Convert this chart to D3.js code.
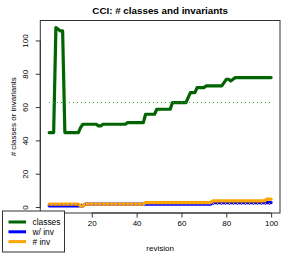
<html>
<body style="margin:0">
<style>
  text{font-family:"Liberation Sans",Arial,sans-serif;fill:#000;}
</style>
<svg width="294" height="254"></svg>
<script src="https://cdn.jsdelivr.net/npm/d3@7"></script>
<script>

// revisions 1..100
var revisions = d3.range(1, 101);

// # classes per revision
var classes = [
  45,45,45,108,107,106,106,45,45,45, 45,45,45,45,48,50,50,50,50,50,
  50,50,49,49,50,50,50,50,50,50, 50,50,50,50,50,51,51,51,51,51,
  51,51,51,56,56,56,56,56,59,59, 59,59,59,59,59,63,63,63,63,63,
  63,63,66,69,69,69,72,72,72,72, 73,73,73,73,73,73,73,73,75,77,
  77,76,77,78,78,78,78,78,78,78, 78,78,78,78,78,78,78,78,78,78
];

// classes with invariants
var withInv = [
  1,1,1,1,1,1,1,1,1,1, 1,1,1,1,1,1,2,2,2,2,
  2,2,2,2,2,2,2,2,2,2, 2,2,2,2,2,2,2,2,2,2,
  2,2,2,2,2,2,2,2,2,2, 2,2,2,2,2,2,2,2,2,2,
  2,2,2,2,2,2,2,2,2,2, 2,2,2,3,3,3,3,3,3,3,
  3,3,3,3,3,3,3,3,3,3, 3,3,3,3,3,3,3,3,3,3
];

// number of invariants
var numInv = [
  2,2,2,2,2,2,2,2,2,2, 2,2,2,2,1,1,2,2,2,2,
  2,2,2,2,2,2,2,2,2,2, 2,2,2,2,2,2,2,2,2,2,
  2,2,2,3,3,3,3,3,3,3, 3,3,3,3,3,3,3,3,3,3,
  3,3,3,3,3,3,3,3,3,3, 3,3,3,4,4,4,4,4,4,4,
  4,4,4,4,4,4,4,4,4,4, 4,4,4,4,4,4,4,5,5,5
];

var seriesNames = ["classes", "w/ inv", "# inv"];
var seriesColors = ["#006400", "#0000ff", "#ffa500"];
var meanColors = ["#3aa83a", "#5555ff", "#ffa500"];
var xTicks = [20, 40, 60, 80, 100];
var yTicks = [0, 20, 40, 60, 80, 100];

var svg = d3.select("svg"),
    pl = 40.3, pr = 280, pt = 20.5, pb = 213;

var series = [classes, withInv, numInv];

// R style 4% padding on both axes
var xr = d3.extent(revisions), xp = (xr[1] - xr[0]) * 0.04;
var yr = [d3.min(series, function(s){return d3.min(s);}), d3.max(series, function(s){return d3.max(s);})];
var yp = (yr[1] - yr[0]) * 0.04;

var x = d3.scaleLinear().domain([xr[0] - xp, xr[1] + xp]).range([pl, pr]);
var y = d3.scaleLinear().domain([yr[0] - yp, yr[1] + yp]).range([pb, pt]);

var line = d3.line()
  .x(function(d, i){return x(revisions[i]);})
  .y(function(d){return y(d);});

var g = svg.append("g");

g.selectAll("path.series")
  .data(series)
  .enter()
  .append("path")
  .attr("class", "series")
  .attr("d", line)
  .attr("fill", "none")
  .attr("stroke", function(d, i){return seriesColors[i];})
  .attr("stroke-width", 3.2)
  .attr("stroke-linejoin", "round")
  .attr("stroke-linecap", "round");

// mean lines, dotted (snapped to whole pixels so the dots stay sharp)
g.selectAll("line.mean")
  .data(series)
  .enter()
  .append("line")
  .attr("class", "mean")
  .attr("x1", Math.round(x(xr[0])))
  .attr("x2", Math.round(x(xr[1])))
  .attr("y1", function(d){return Math.round(y(d3.mean(d))) + 0.5;})
  .attr("y2", function(d){return Math.round(y(d3.mean(d))) + 0.5;})
  .attr("stroke", function(d, i){return meanColors[i];})
  .attr("stroke-width", 1)
  .attr("stroke-dasharray", "1,3")
  .attr("shape-rendering", "crispEdges");

// box
svg.append("rect")
  .attr("x", pl).attr("y", pt)
  .attr("width", pr - pl).attr("height", pb - pt)
  .attr("fill", "none").attr("stroke", "#333").attr("stroke-width", 1);

// axes
var xAxis = d3.axisBottom(x).tickValues(xTicks).tickSize(4.5).tickPadding(3).tickFormat(d3.format("d"));
var gx = svg.append("g").attr("transform", "translate(0," + pb + ")").call(xAxis);
gx.select(".domain").attr("d", "M" + x(xTicks[0]) + ",0H" + x(xTicks[xTicks.length - 1])).attr("stroke", "#333");
gx.selectAll("line").attr("stroke", "#333");
gx.selectAll("text").attr("font-size", 8).attr("font-family", "Liberation Sans,Arial,sans-serif").attr("fill", "#000");

var yAxis = d3.axisLeft(y).tickValues(yTicks).tickSize(4.5).tickFormat(d3.format("d"));
var gy = svg.append("g").attr("transform", "translate(" + pl + ",0)").call(yAxis);
gy.select(".domain").attr("d", "M0," + y(yTicks[0]) + "V" + y(yTicks[yTicks.length - 1])).attr("stroke", "#333");
gy.selectAll("line").attr("stroke", "#333");
gy.selectAll(".tick").attr("transform", null);
gy.selectAll(".tick line").attr("transform", function(d){return "translate(0," + y(d) + ")";});
gy.selectAll("text")
  .attr("font-size", 8).attr("font-family", "Liberation Sans,Arial,sans-serif").attr("fill", "#000")
  .attr("x", null).attr("y", null)
  .attr("text-anchor", "middle")
  .attr("transform", function(d){return "translate(-12," + y(d) + ") rotate(-90)";})
  .attr("dy", "0");

// title and labels
svg.append("text")
  .attr("x", (pl + pr) / 2).attr("y", 14)
  .attr("text-anchor", "middle").attr("font-size", 9.8).attr("font-weight", "bold")
  .text("CCI: # classes and invariants");

svg.append("text")
  .attr("x", (pl + pr) / 2).attr("y", 251)
  .attr("text-anchor", "middle").attr("font-size", 8)
  .text("revision");

svg.append("text")
  .attr("transform", "translate(16," + (pt + pb) / 2 + ") rotate(-90)")
  .attr("text-anchor", "middle").attr("font-size", 8)
  .text("# classes or invariants");

// legend
var lg = svg.append("g");
lg.append("rect")
  .attr("x", 2.5).attr("y", 211).attr("width", 62).attr("height", 41)
  .attr("fill", "#fff").attr("stroke", "#333");
var items = lg.selectAll("g.item")
  .data(seriesNames)
  .enter()
  .append("g")
  .attr("class", "item")
  .attr("transform", function(d, i){return "translate(0," + (222 + i * 9.8) + ")";});
items.append("line")
  .attr("x1", 8.5).attr("x2", 26)
  .attr("stroke", function(d, i){return seriesColors[i];})
  .attr("stroke-width", 3);
items.append("text")
  .attr("x", 32.5).attr("dy", "0.35em").attr("font-size", 8.4)
  .text(function(d){return d;});

</script>
</body>
</html>
